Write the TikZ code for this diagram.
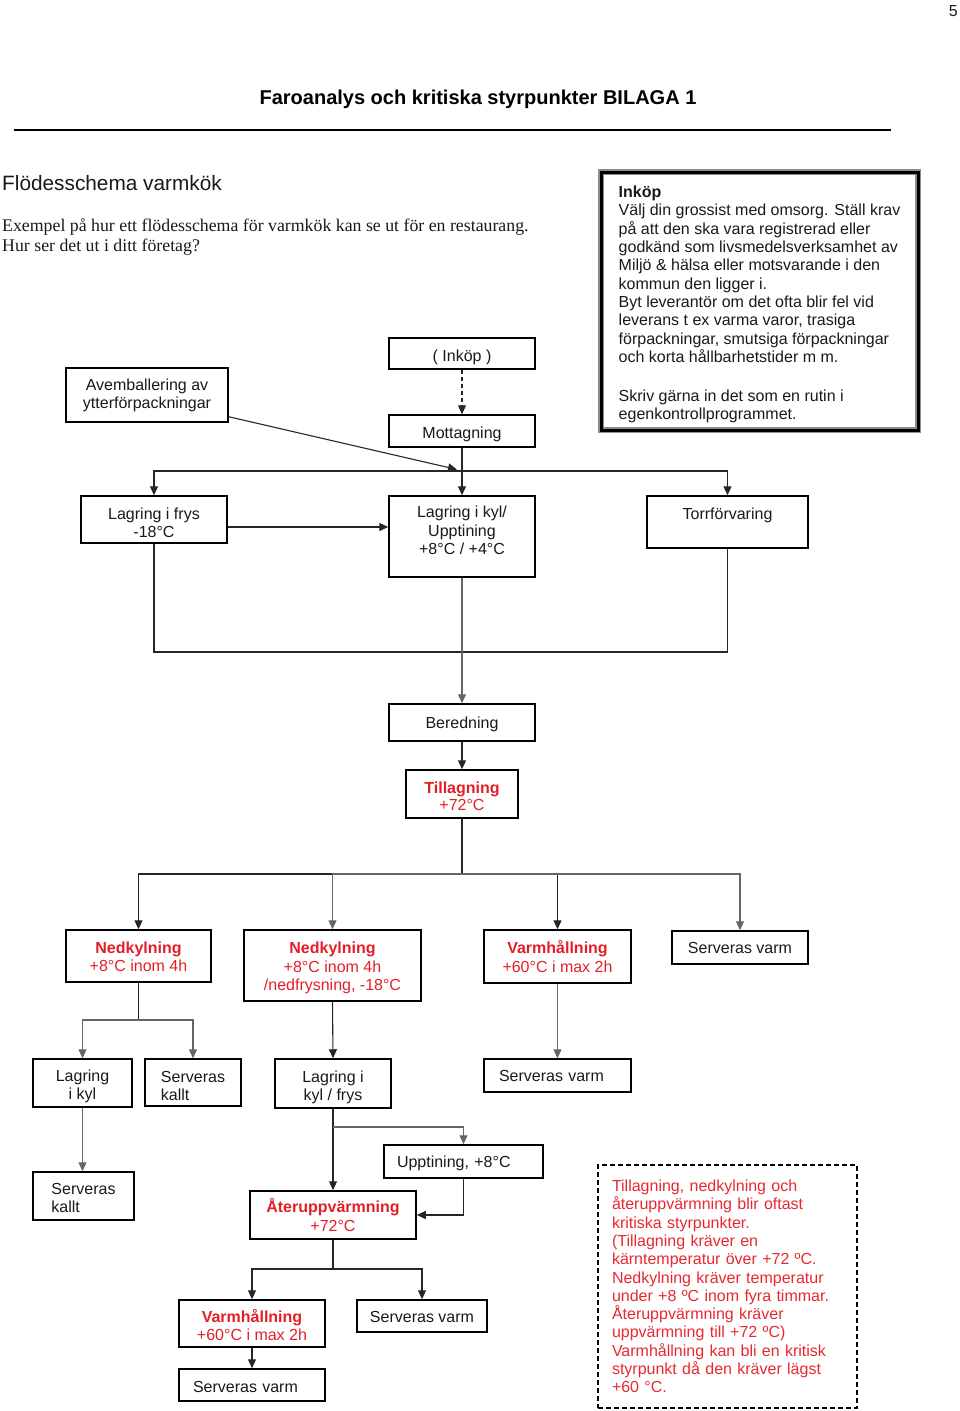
\documentclass[tikz,border=0pt]{standalone}
\usepackage{fontspec}
\setmainfont{Liberation Sans}
\newfontfamily\serifface{Liberation Serif}
\usetikzlibrary{arrows.meta}
\definecolor{cred}{RGB}{228,30,38}
\definecolor{nred}{RGB}{232,40,48}
\definecolor{ink}{RGB}{25,25,25}
\newcommand\bfnt{\fontsize{16}{18.3}\selectfont}
\newcommand\st[1]{\rule{0pt}{#1}}
\begin{document}
\begin{tikzpicture}[x=1pt,y=-1pt,
  box/.style={draw=black, line width=1.5pt, inner sep=0pt, align=center, font=\bfnt, text=ink},
  tup/.style={execute at end node={\rule[-#1]{0pt}{0pt}}},
  hot/.style={text=cred},
  conn/.style={line width=1.1pt, draw=black!85},
  arr/.style={conn, -{Triangle[length=9pt,width=8pt]}},
]
\useasboundingbox (0,0) rectangle (960,1411);

% header
\node[anchor=base east, inner sep=0pt, font=\fontsize{16}{18}\selectfont, text=ink] (pnum) at (958,16) {5};
\node[anchor=base, inner sep=0pt, font=\fontsize{20}{24}\selectfont\bfseries] (title) at (478,104) {Faroanalys och kritiska styrpunkter BILAGA 1};
\draw[line width=1.3pt] (14,130) -- (891,130);

\node[anchor=base west, inner sep=0pt, font=\fontsize{20.8}{24}\selectfont, text=black!90] (head) at (2,190) {Flödesschema varmkök};
\node[anchor=north west, inner sep=0pt, align=left, font=\serifface\fontsize{17.8}{20}\selectfont, text=ink] (intro) at (2,218) {Exempel på hur ett flödesschema för varmkök kan se ut för en restaurang.\\Hur ser det ut i ditt företag?};

% info box
\node[draw=black, line width=3pt, preaction={draw=black!45, line width=5.5pt}, minimum width=317, minimum height=258, inner sep=0pt, align=left, font=\bfnt, text=ink] (info) at (759.5,301) {\st{19pt}\textbf{Inköp}\\Välj din grossist med omsorg. Ställ krav\\på att den ska vara registrerad eller\\godkänd som livsmedelsverksamhet av\\Miljö \& hälsa eller motsvarande i den\\kommun den ligger i.\\Byt leverantör om det ofta blir fel vid\\leverans t ex varma varor, trasiga\\förpackningar, smutsiga förpackningar\\och korta hållbarhetstider m m.\\[21pt]Skriv gärna in det som en rutin i\\egenkontrollprogrammet.};

% boxes
\node[box, minimum width=146, minimum height=31] (inkop) at (462,353.5) {\st{19.7pt}( Inköp )};
\node[box, minimum width=162, minimum height=54] (avem) at (147,395) {\st{12.7pt}Avemballering av\\ytterförpackningar};
\node[box, minimum width=146, minimum height=32] (mott) at (462,431) {\st{17.7pt}Mottagning};
\node[box, minimum width=146, minimum height=47] (frys) at (154,519.5) {\st{17.7pt}Lagring i frys\\-18°C};
\node[box, tup=12.4pt, minimum width=146, minimum height=81] (kyl) at (462,536.5) {Lagring i kyl/\\Upptining\\+8°C / +4°C};
\node[box, minimum width=161, minimum height=52] (torr) at (727.5,522) {\st{13.7pt}Torrförvaring\\\mbox{}};
\node[box, minimum width=146, minimum height=37] (bered) at (462,722.5) {\st{15.7pt}Beredning};
\node[box, hot, minimum width=112, minimum height=48] (till) at (462,794) {\st{15.7pt}\textbf{Tillagning}\\[-1.3pt]+72°C};
\node[box, hot, minimum width=145, minimum height=52] (ned1) at (138.5,956) {\st{13.7pt}\textbf{Nedkylning}\\+8°C inom 4h};
\node[box, hot, minimum width=177, minimum height=71] (ned2) at (332.5,965.5) {\st{16.7pt}\textbf{Nedkylning}\\+8°C inom 4h\\/nedfrysning, -18°C};
\node[box, hot, minimum width=147, minimum height=53] (varm1) at (557.5,956.5) {\textbf{Varmhållning}\\+60°C i max 2h};
\node[box, minimum width=136, minimum height=33] (serv1) at (740,947.5) {Serveras varm};
\node[box, minimum width=99, minimum height=48] (lkyl) at (82.5,1083) {\st{18.7pt}Lagring\\i kyl};
\node[box, align=left, minimum width=96, minimum height=47] (skallt1) at (193,1082.5) {\st{18.7pt}Serveras\\kallt};
\node[box, minimum width=116, minimum height=49] (lkf) at (333,1083.5) {\st{18.7pt}Lagring i\\kyl / frys};
\node[box, align=left, text width=117, minimum width=147, minimum height=33] (serv2) at (557.5,1075.5) {Serveras varm};
\node[box, align=left, minimum width=101, minimum height=48] (skallt2) at (83.5,1196) {\st{15.7pt}Serveras\\kallt};
\node[box, align=left, text width=133, minimum width=159, minimum height=33] (uppt) at (463.5,1161.5) {\st{15.7pt}Upptining, +8°C};
\node[box, hot, minimum width=166, minimum height=48] (ater) at (333,1215) {\st{13.7pt}\textbf{Återuppvärmning}\\+72°C};
\node[box, hot, minimum width=146, minimum height=47] (varm2) at (252,1323.5) {\st{15.7pt}\textbf{Varmhållning}\\+60°C i max 2h};
\node[box, minimum width=130, minimum height=32] (serv3) at (422,1316) {\st{13.7pt}Serveras varm};
\node[box, align=left, text width=118, minimum width=146, minimum height=32] (serv4) at (252,1385) {\st{15.7pt}Serveras varm};

% note box
\node[draw=black, line width=1.3pt, dash pattern=on 5pt off 3pt, minimum width=259, minimum height=243, inner sep=0pt, align=left, text width=231, font=\bfnt, text=nred] (note) at (727.5,1286.5) {Tillagning, nedkylning och\\återuppvärmning blir oftast\\kritiska styrpunkter.\\(Tillagning kräver en\\kärntemperatur över +72 ºC.\\Nedkylning kräver temperatur\\under +8 ºC inom fyra timmar.\\Återuppvärmning kräver\\uppvärmning till +72 ºC)\\Varmhållning kan bli en kritisk\\styrpunkt då den kräver lägst\\+60 °C.};

% connectors
\coordinate (b1) at (462,471);
\coordinate (b2) at (462,652);
\coordinate (b3) at (462,874);
\coordinate (b4) at (138.5,1020);
\coordinate (b5) at (333,1127);
\coordinate (b6) at (333,1269);

\draw[arr, dash pattern=on 4pt off 3pt] (inkop.south) -- (mott.north);
\draw[conn] (mott.south) -- (b1);
\draw[arr] ([yshift=6pt]avem.south east) -- ([xshift=-5pt,yshift=1.5pt]b1);
\draw[arr] (b1) -- (kyl.north);
\draw[arr] (b1) -| (frys.north);
\draw[arr] (b1) -| (torr.north);
\draw[arr] ([yshift=-7.5pt]frys.east) -- ([yshift=-7.5pt]frys.east -| kyl.west);
\draw[conn] (frys.south) |- (b2) -| (torr.south);
\draw[arr, draw=black!60] (kyl.south) -- (bered.north);
\draw[arr] (bered.south) -- (till.north);
\draw[conn] (till.south) -- (b3);
\draw[arr] (b3) -| (ned1.north);
\draw[arr, draw=black!60] (b3) -| (ned2.north);
\draw[arr] (b3) -| (varm1.north);
\draw[arr, draw=black!60] (b3) -| (serv1.north);
\draw[conn] (ned1.south) -- (b4);
\draw[arr, draw=black!60] (b4) -| (lkyl.north);
\draw[arr, draw=black!60] (b4) -| (skallt1.north);
\draw[arr] (ned2.south) -- (lkf.north);
\draw[arr, draw=black!60] (varm1.south) -- (serv2.north);
\draw[arr, draw=black!60] (lkyl.south) -- (lkyl.south |- skallt2.north);
\draw[arr] (lkf.south) -- (ater.north);
\draw[arr, draw=black!60] (b5) -| (uppt.north);
\draw[arr] (uppt.south) |- (ater.east);
\draw[conn] (ater.south) -- (b6);
\draw[arr] (b6) -| (varm2.north);
\draw[arr] (b6) -| (serv3.north);
\draw[arr] (varm2.south) -- (serv4.north);
\end{tikzpicture}
\end{document}
